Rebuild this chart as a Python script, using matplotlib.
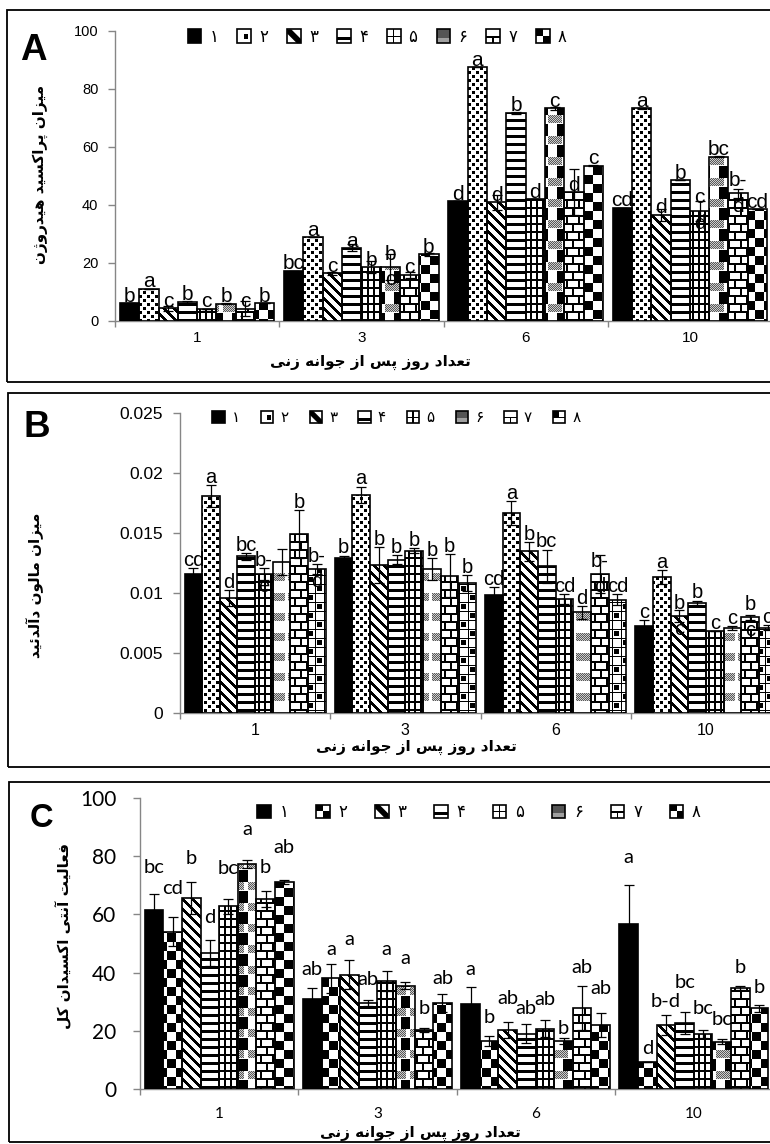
import numpy as np
import matplotlib.pyplot as plt
from matplotlib.patches import Rectangle, Polygon, PathPatch
from matplotlib.path import Path
from matplotlib.legend_handler import HandlerBase

# ---------------- data ----------------
days = ["1", "3", "6", "10"]
series_names = ["۱", "۲", "۳", "۴", "۵", "۶", "۷", "۸"]

# A - hydrogen peroxide
h2o2_d1 = [6.2, 11.2, 4.4, 6.6, 4.3, 6.0, 4.3, 6.1]
h2o2_d3 = [17.3, 29.0, 16.5, 25.2, 18.6, 18.6, 16.0, 23.0]
h2o2_d6 = [41.4, 87.5, 40.9, 71.8, 42.0, 73.3, 44.4, 53.6]
h2o2_d10 = [39.1, 73.3, 36.6, 48.6, 38.0, 56.7, 44.0, 38.5]
h2o2_err_d1 = [0, 0, 0.8, 0.3, 0, 0.3, 2.5, 0]
h2o2_err_d3 = [0, 0, 0.5, 1.2, 2.0, 4.5, 1.0, 0.6]
h2o2_err_d6 = [0, 0, 2.5, 0.3, 0, 0.5, 8.0, 0.3]
h2o2_err_d10 = [0, 0.3, 2.0, 0, 3.5, 0.3, 1.5, 0]
h2o2_lab_d1 = ["b", "a", "c", "b", "c", "b", "c", "b"]
h2o2_lab_d3 = ["bc", "a", "c", "a", "b", "b\nc", "c", "b"]
h2o2_lab_d6 = ["d", "a", "d", "b", "d", "c", "d", "c"]
h2o2_lab_d10 = ["cd", "a", "d", "b", "c\nd", "bc", "b-\nd", "cd"]

# B - malondialdehyde
mda_d1 = [0.01161, 0.01806, 0.00958, 0.01306, 0.01161, 0.01256, 0.01492, 0.0120]
mda_d3 = [0.01292, 0.01817, 0.01236, 0.01278, 0.01353, 0.0120, 0.01144, 0.01083]
mda_d6 = [0.00983, 0.01667, 0.01347, 0.01222, 0.0095, 0.00839, 0.01158, 0.00944]
mda_d10 = [0.00728, 0.01133, 0.00806, 0.00917, 0.0068, 0.00708, 0.00797, 0.0071]
mda_err_d1 = [0.0005, 0.0009, 0.0007, 0.0003, 0.0005, 0.0011, 0.0020, 0.0004]
mda_err_d3 = [0.0002, 0.0007, 0.0015, 0.0004, 0.0002, 0.0009, 0.0018, 0.0007]
mda_err_d6 = [0.0007, 0.0010, 0.0008, 0.0014, 0.00045, 0.00055, 0.0016, 0.00045]
mda_err_d10 = [0.0005, 0.00055, 0.0005, 0.0002, 0, 0.0002, 0.0002, 0.0002]
mda_lab_d1 = ["cd", "a", "d", "bc", "b-\ne", "", "b", "b-\nd"]
mda_lab_d3 = ["b", "a", "b", "b", "b", "b", "b", "b"]
mda_lab_d6 = ["cd", "a", "b", "bc", "cd", "d", "b-\nd", "cd"]
mda_lab_d10 = ["c", "a", "b\nc", "b", "c", "c", "b\nc", "c"]
mda_ticks = [0, 0.005, 0.01, 0.015, 0.02, 0.025]
mda_tick_labels = ["0", "0.005", "0.01", "0.015", "0.02", "0.025"]

# C - total antioxidant activity
tac_d1 = [61.4, 54.0, 65.6, 46.7, 62.8, 77.3, 65.3, 71.2]
tac_d3 = [30.9, 38.0, 39.2, 29.6, 37.0, 35.5, 20.2, 29.6]
tac_d6 = [29.2, 16.6, 20.2, 19.0, 20.7, 16.4, 27.8, 21.9]
tac_d10 = [56.8, 9.2, 22.0, 22.7, 19.0, 16.3, 34.7, 27.8]
tac_err_d1 = [5.5, 5.0, 5.4, 4.5, 2.5, 1.3, 2.8, 0.7]
tac_err_d3 = [3.8, 5.0, 5.0, 1.0, 3.4, 1.3, 0.7, 3.0]
tac_err_d6 = [5.7, 1.7, 2.7, 3.3, 3.0, 1.0, 7.6, 4.2]
tac_err_d10 = [13.2, 0, 3.3, 3.8, 1.4, 1.0, 0.8, 1.2]
tac_lab_d1 = ["bc", "cd", "b", "d", "bc", "a", "b", "ab"]
tac_lab_d3 = ["ab", "a", "a", "ab", "a", "a", "b", "ab"]
tac_lab_d6 = ["a", "b", "ab", "ab", "ab", "b", "ab", "ab"]
tac_lab_d10 = ["a", "d", "b-d", "bc", "bc", "bc", "b", "b"]

xlabel_fa = "تعداد روز پس از جوانه زنی"
ylabel_a = "میزان پراکسید هیدروژن"
ylabel_b = "میزان مالون دآلدئید"
ylabel_c = "فعالیت آنتی اکسیدان کل"

# ------------- persian shaping (matplotlib has no bidi/shaping) -------------
FORMS = {  # isolated, final, initial, medial
    "ا": ("\uFE8D", "\uFE8E", None, None),
    "آ": ("\uFE81", "\uFE82", None, None),
    "پ": ("\uFB56", "\uFB57", "\uFB58", "\uFB59"),
    "ت": ("\uFE95", "\uFE96", "\uFE97", "\uFE98"),
    "ج": ("\uFE9D", "\uFE9E", "\uFE9F", "\uFEA0"),
    "د": ("\uFEA9", "\uFEAA", None, None),
    "ر": ("\uFEAD", "\uFEAE", None, None),
    "ز": ("\uFEAF", "\uFEB0", None, None),
    "ژ": ("\uFB8A", "\uFB8B", None, None),
    "س": ("\uFEB1", "\uFEB2", "\uFEB3", "\uFEB4"),
    "ع": ("\uFEC9", "\uFECA", "\uFECB", "\uFECC"),
    "ف": ("\uFED1", "\uFED2", "\uFED3", "\uFED4"),
    "ک": ("\uFB8E", "\uFB8F", "\uFB90", "\uFB91"),
    "ل": ("\uFEDD", "\uFEDE", "\uFEDF", "\uFEE0"),
    "م": ("\uFEE1", "\uFEE2", "\uFEE3", "\uFEE4"),
    "ن": ("\uFEE5", "\uFEE6", "\uFEE7", "\uFEE8"),
    "ه": ("\uFEE9", "\uFEEA", "\uFEEB", "\uFEEC"),
    "و": ("\uFEED", "\uFEEE", None, None),
    "ی": ("\uFBFC", "\uFBFD", "\uFBFE", "\uFBFF"),
    "ئ": ("\uFE89", "\uFE8A", "\uFE8B", "\uFE8C"),
}


def shape(text):
    text = text.replace("\u064A", "ی").replace("\u0643", "ک")
    out = []
    for i, ch in enumerate(text):
        if ch not in FORMS:
            out.append(ch)
            continue
        prev = text[i - 1] if i > 0 else ""
        nxt = text[i + 1] if i + 1 < len(text) else ""
        jp = prev in FORMS and FORMS[prev][2] is not None
        jn = nxt in FORMS and FORMS[ch][2] is not None
        iso, fin, ini, med = FORMS[ch]
        out.append(med if jp and jn else fin if jp else ini if jn else iso)
    return "".join(reversed(out))


# ------------- fill patterns (excel-like) -------------
def fill_pattern(kind, w, h):
    X, Y = np.meshgrid(np.arange(w), np.arange(h))
    dither = np.where((X + Y) % 2 == 0, 0.35, 0.8)
    img = np.ones((h, w))
    if kind == "dots":
        on = ((X % 8 < 3) & (Y % 8 < 3)) | (((X + 4) % 8 < 3) & ((Y + 4) % 8 < 3))
        img[on] = 0
    elif kind == "diag":
        img[(X - Y) % 10 < 4] = 0
    elif kind == "hlines":
        img[Y % 8 < 3] = 0
    elif kind == "grid":
        img[(X % 6 < 2) | (Y % 8 < 2)] = 0
    elif kind == "brick":
        img[(Y % 8 < 2) | (((X + 6 * ((Y // 8) % 2)) % 12) < 2)] = 0
    elif kind == "checker":
        img[((X // 9) + (Y // 9)) % 2 == 0] = 0
    elif kind == "squares":
        cell = ((X // 9) + (Y // 9)) % 2 == 0
        inner = (X % 9 >= 2) & (X % 9 <= 6) & (Y % 9 >= 2) & (Y % 9 <= 6)
        img[(X % 9 == 0) | (Y % 9 == 0) | (cell & inner)] = 0
    elif kind == "gray_black":
        g = (Y % 21 < 8) & (X % 18 < 14)
        b = (Y % 21 >= 9) & (X % 18 >= 9)
        img[g] = dither[g]
        img[b] = 0
    elif kind == "gray_white":
        g = (Y % 20 < 8) & (X % 18 < 15)
        img[g] = dither[g]
    return img


class Icon:
    def __init__(self, kind):
        self.kind = kind


class IconHandler(HandlerBase):
    def create_artists(self, legend, orig_handle, xdescent, ydescent,
                       width, height, fontsize, trans):
        s = min(width, height)
        x0 = -xdescent + (width - s) / 2
        y0 = -ydescent + (height - s) / 2
        k = orig_handle.kind

        def R(a, b, c, d, **kw):
            return Rectangle((x0 + a * s, y0 + b * s), (c - a) * s, (d - b) * s,
                             transform=trans, lw=0, **kw)

        base = "black" if k == "solid" else "#555555" if k.startswith("gray") else "white"
        arts = [R(0, 0, 1, 1, fc=base)]
        if k == "dots":
            arts.append(R(0.45, 0.3, 0.8, 0.65, fc="black"))
        elif k == "diag":
            pts = [(0, 0.7), (0, 1), (0.3, 1), (1, 0.3), (1, 0), (0.7, 0)]
            arts.append(Polygon([(x0 + u * s, y0 + v * s) for u, v in pts],
                                closed=True, fc="black", lw=0, transform=trans))
        elif k == "hlines":
            arts.append(R(0, 0.2, 1, 0.45, fc="black"))
        elif k == "grid":
            arts += [R(0.45, 0, 0.55, 1, fc="black"), R(0, 0.45, 1, 0.55, fc="black")]
        elif k == "brick":
            arts += [R(0, 0.4, 1, 0.52, fc="black"), R(0.45, 0, 0.55, 0.45, fc="black")]
        elif k == "checker":
            arts += [R(0, 0.5, 0.5, 1, fc="black"), R(0.5, 0, 1, 0.5, fc="black")]
        elif k == "squares":
            arts += [R(0, 0.5, 0.5, 1, fc="black"), R(0, 0.45, 1, 0.55, fc="black")]
        elif k.startswith("gray"):
            arts.append(R(0, 0, 1, 0.4, fc="#a0a0a0"))
        arts.append(Rectangle((x0, y0), s, s, fill=False, ec="black", lw=1.2,
                              transform=trans))
        return arts


# ------------- figure -------------
W, H = 770, 1144
fig = plt.figure(figsize=(W / 100, H / 100), dpi=100)
AXC = "#868686"


def draw_panel(box, rect, letter, letter_pos, letter_size, vals, errs, labs, kinds,
               ymax, yticks, ytick_labels, font, tick_size, xtick_size, ypad, xpad,
               lab_size, lab_mode, lab_off, ylab, ylab_pos, xlab_pos, fa_size,
               leg_pos, leg_size, leg_kw):
    bl, bt, bb = box
    fig.add_artist(Rectangle((bl / W, 1 - bb / H), (W + 30 - bl) / W, (bb - bt) / H,
                             transform=fig.transFigure, fill=False, ec="black", lw=1.3))
    fig.text(letter_pos[0] / W, 1 - letter_pos[1] / H, letter, fontsize=letter_size,
             fontweight="bold", family="Liberation Sans", va="baseline", ha="left")

    l, t, r, b = rect
    ax = fig.add_axes([l / W, 1 - b / H, (r - l) / W, (b - t) / H])
    wpx, hpx = int(round(r - l)), int(round(b - t))
    vals = np.array(vals)
    errs = np.array(errs)
    offs = np.broadcast_to(np.array(lab_off, dtype=float), vals.shape)
    bw = 0.94 / 8
    centers = np.arange(len(days)) + 0.5
    for j, kind in enumerate(kinds):
        x = centers + (j - 3.5) * bw
        bars = ax.bar(x, vals[:, j], bw, facecolor="black" if kind == "solid" else "none",
                      edgecolor="black", lw=1.2, zorder=3)
        if kind != "solid":
            im = ax.imshow(fill_pattern(kind, wpx, hpx), cmap="gray", vmin=0, vmax=1,
                           extent=(0, len(days), 0, ymax), aspect="auto",
                           interpolation="nearest", zorder=2)
            paths = [p.get_path().transformed(p.get_patch_transform()) for p in bars]
            clip = PathPatch(Path.make_compound_path(*paths), transform=ax.transData,
                             fc="none", ec="none")
            im.set_clip_path(clip)
        ax.errorbar(x, vals[:, j], yerr=errs[:, j], fmt="none", ecolor="black",
                    elinewidth=0.9, capsize=3.5, capthick=0.9, zorder=4)
        for xi, vi, ei, oi, txt in zip(x, vals[:, j], errs[:, j], offs[:, j],
                                       [row[j] for row in labs]):
            if not txt:
                continue
            if "\n" in txt:
                ax.annotate(txt, (xi, vi), ha="center", va="center", linespacing=1.45,
                            fontsize=lab_size, family=font, zorder=5)
            elif lab_mode == "bar":
                ax.annotate(txt, (xi, vi), xytext=(0, oi), textcoords="offset points",
                            ha="center", va="baseline", fontsize=lab_size, family=font,
                            zorder=5)
            elif lab_mode == "err":
                ax.annotate(txt, (xi, vi + ei), xytext=(0, oi),
                            textcoords="offset points", ha="center", va="baseline",
                            fontsize=lab_size, family=font, zorder=5)
            else:
                ax.annotate(txt, (xi, vi + ei), xytext=(0, oi),
                            textcoords="offset points", ha="center", va="center",
                            fontsize=lab_size, family=font, zorder=5)

    ax.set_xlim(0, len(days))
    ax.set_ylim(0, ymax)
    ax.set_yticks(yticks)
    ax.set_yticklabels(ytick_labels, fontsize=tick_size, family=font)
    ax.set_xticks(centers)
    ax.set_xticklabels(days, fontsize=xtick_size, family=font)
    ax.set_xticks(np.arange(len(days) + 1), minor=True)
    ax.tick_params(axis="x", which="major", length=0, pad=xpad)
    ax.tick_params(axis="x", which="minor", length=4, color=AXC, width=1)
    ax.tick_params(axis="y", length=5, color=AXC, width=1, pad=ypad)
    for s in ("top", "right"):
        ax.spines[s].set_visible(False)
    for s in ("left", "bottom"):
        ax.spines[s].set_color(AXC)
        ax.spines[s].set_linewidth(1)

    ax.set_ylabel(shape(ylab), fontsize=fa_size, fontweight="bold", family="DejaVu Sans",
                  va="center")
    ax.yaxis.set_label_coords((ylab_pos[0] - l) / (r - l), (b - ylab_pos[1]) / (b - t))
    ax.set_xlabel(shape(xlabel_fa), fontsize=fa_size, fontweight="bold",
                  family="DejaVu Sans", va="center")
    ax.xaxis.set_label_coords((xlab_pos[0] - l) / (r - l), (b - xlab_pos[1]) / (b - t))

    ax.legend([Icon(k) for k in kinds], series_names, handler_map={Icon: IconHandler()},
              loc="center left", bbox_to_anchor=(leg_pos[0] / W, 1 - leg_pos[1] / H),
              bbox_transform=fig.transFigure, ncol=8, frameon=False, borderpad=0,
              borderaxespad=0, prop={"family": "DejaVu Sans", "size": leg_size}, **leg_kw)
    return ax


draw_panel(box=(7, 10, 382), rect=(115, 31, 772, 321), letter="A", letter_pos=(20, 60),
           letter_size=26.5,
           vals=[h2o2_d1, h2o2_d3, h2o2_d6, h2o2_d10],
           errs=[h2o2_err_d1, h2o2_err_d3, h2o2_err_d6, h2o2_err_d10],
           labs=[h2o2_lab_d1, h2o2_lab_d3, h2o2_lab_d6, h2o2_lab_d10],
           kinds=["solid", "dots", "diag", "hlines", "grid", "gray_black", "brick", "checker"],
           ymax=100, yticks=[0, 20, 40, 60, 80, 100],
           ytick_labels=["0", "20", "40", "60", "80", "100"], font="Liberation Sans",
           tick_size=10.5, xtick_size=11, ypad=7, xpad=7, lab_size=15, lab_mode="bar",
           lab_off=1, ylab=ylabel_a, ylab_pos=(40, 174), xlab_pos=(370, 362), fa_size=11,
           leg_pos=(187, 37), leg_size=12,
           leg_kw=dict(handlelength=0.9, handleheight=0.9, handletextpad=0.45,
                       columnspacing=1.1))

draw_panel(box=(8, 393, 767), rect=(180, 413, 781, 713), letter="B", letter_pos=(23, 437),
           letter_size=26.5,
           vals=[mda_d1, mda_d3, mda_d6, mda_d10],
           errs=[mda_err_d1, mda_err_d3, mda_err_d6, mda_err_d10],
           labs=[mda_lab_d1, mda_lab_d3, mda_lab_d6, mda_lab_d10],
           kinds=["solid", "dots", "diag", "hlines", "grid", "gray_white", "brick", "squares"],
           ymax=0.025, yticks=mda_ticks, ytick_labels=mda_tick_labels,
           font="Liberation Sans", tick_size=12.5, xtick_size=11.5, ypad=7, xpad=7,
           lab_size=14.5, lab_mode="err", lab_off=1.5, ylab=ylabel_b, ylab_pos=(35, 585),
           xlab_pos=(416, 747), fa_size=11, leg_pos=(212, 418), leg_size=11,
           leg_kw=dict(handlelength=0.85, handleheight=0.85, handletextpad=0.45,
                       columnspacing=1.35))

# label rise above the error bar (points), as placed in the original figure
tac_lab_rise = [[19, 21, 17, 16, 22, 22, 17, 23],
                [13, 10.5, 15, 15, 16, 16.5, 14.5, 11.5],
                [13, 13, 17, 11.5, 15, 7, 13, 18],
                [20, 10, 10, 21, 15.5, 14, 13, 12]]

draw_panel(box=(9, 782, 1142), rect=(140, 798, 773, 1089), letter="C",
           letter_pos=(30, 827), letter_size=23.5,
           vals=[tac_d1, tac_d3, tac_d6, tac_d10],
           errs=[tac_err_d1, tac_err_d3, tac_err_d6, tac_err_d10],
           labs=[tac_lab_d1, tac_lab_d3, tac_lab_d6, tac_lab_d10],
           kinds=["solid", "checker", "diag", "hlines", "grid", "gray_black", "brick", "checker"],
           ymax=100, yticks=[0, 20, 40, 60, 80, 100],
           ytick_labels=["0", "20", "40", "60", "80", "100"], font="Lato",
           tick_size=15, xtick_size=11, ypad=12, xpad=13, lab_size=14.5, lab_mode="above",
           lab_off=tac_lab_rise, ylab=ylabel_c, ylab_pos=(64, 936), xlab_pos=(420, 1133),
           fa_size=11, leg_pos=(257, 812), leg_size=12,
           leg_kw=dict(handlelength=0.85, handleheight=0.85, handletextpad=0.5,
                       columnspacing=1.65))

fig.savefig("out.png", dpi=100)
